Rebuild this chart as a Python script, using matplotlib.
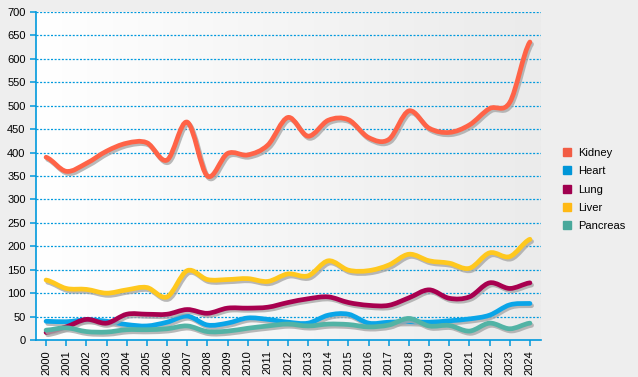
import matplotlib
matplotlib.use("Agg")
import matplotlib.pyplot as plt
import matplotlib.patheffects as pe
import numpy as np
from matplotlib.lines import Line2D
from matplotlib.path import Path
from matplotlib.patches import PathPatch

years = list(range(2000, 2025))
kidney = [390, 360, 377, 403, 420, 421, 384, 465, 350, 398, 395, 416, 475, 435,
          469, 470, 432, 428, 489, 452, 443, 459, 494, 507, 636]
heart = [40, 39, 43, 40, 33, 30, 38, 51, 32, 36, 47, 44, 38, 36,
         53, 55, 36, 38, 39, 38, 41, 45, 53, 75, 78]
lung = [16, 28, 44, 36, 55, 55, 55, 65, 57, 68, 68, 70, 80, 88,
        92, 80, 74, 74, 90, 107, 89, 92, 122, 110, 122]
liver = [128, 110, 108, 100, 107, 112, 92, 148, 129, 129, 131, 125, 141, 137,
         169, 149, 148, 160, 183, 169, 164, 153, 186, 178, 215]
pancreas = [21, 26, 18, 17, 22, 22, 24, 30, 18, 19, 25, 30, 34, 30,
            34, 33, 28, 32, 46, 30, 31, 19, 36, 24, 36]

series = ["Kidney", "Heart", "Lung", "Liver", "Pancreas"]
line_colors = ["#ff6347", "#0aa5e8", "#a8004f", "#ffc81e", "#52b3a5"]
key_colors = ["#f25c44", "#0096d8", "#a0004f", "#ffb914", "#48a89b"]
blue = "#0099dd"


def smooth_path(x, y):
    # cubic bezier through the yearly points (catmull-rom style tangents)
    x = np.asarray(x, float)
    y = np.asarray(y, float)
    n = len(x)
    verts = [(x[0], y[0])]
    codes = [Path.MOVETO]
    for i in range(n - 1):
        y0 = y[i - 1] if i > 0 else y[i]
        y3 = y[i + 2] if i + 2 < n else y[i + 1]
        dx = x[i + 1] - x[i]
        m1 = (y[i + 1] - y0) / 2.0
        m2 = (y3 - y[i]) / 2.0
        verts += [(x[i] + dx / 3, y[i] + m1 / 3),
                  (x[i + 1] - dx / 3, y[i + 1] - m2 / 3),
                  (x[i + 1], y[i + 1])]
        codes += [Path.CURVE4] * 3
    return Path(verts, codes)


fig = plt.figure(figsize=(6.38, 3.77), dpi=100, facecolor="#eeeeee")
ax = fig.add_axes([36 / 638, 1 - 340 / 377, 505 / 638, 328 / 377])
ax.set_facecolor("none")

# plot area gradient, white on the left to light grey on the right
grad = np.linspace(0, 1, 256).reshape(1, -1)
cmap = matplotlib.colors.LinearSegmentedColormap.from_list("bg", ["#ffffff", "#ebebeb"])
ax.imshow(grad, extent=[0, 1, 0, 1], transform=ax.transAxes, cmap=cmap,
          aspect="auto", zorder=0)

ax.set_xlim(1999.5, 2024.55)
ax.set_ylim(0, 700)
ax.set_yticks(range(0, 701, 50))
ax.set_xticks(years)
ax.set_xticklabels([str(y) for y in years], rotation=90)

for v in range(50, 701, 50):
    ax.axhline(v, color=blue, lw=0.9, dashes=(1.6, 1.3), zorder=1)

for name, vals, c in zip(series, [kidney, heart, lung, liver, pancreas], line_colors):
    patch = PathPatch(smooth_path(years, vals), facecolor="none", edgecolor=c,
                      lw=3.4, capstyle="round", joinstyle="round", zorder=3)
    # grey drop shadow under each line
    patch.set_path_effects([pe.Stroke(linewidth=3.4, foreground="#a8a8a8", alpha=0.8,
                                      offset=(1.2, -1.6)),
                            pe.Normal()])
    ax.add_patch(patch)

for s in ["top", "right"]:
    ax.spines[s].set_visible(False)
for s in ["left", "bottom"]:
    ax.spines[s].set_color(blue)
    ax.spines[s].set_linewidth(1.2)
ax.tick_params(axis="both", colors=blue, labelcolor="black", labelsize=8,
               width=1.1, length=4)
for lbl in ax.get_xticklabels() + ax.get_yticklabels():
    lbl.set_fontfamily("Liberation Sans")

handles = [Line2D([], [], ls="none", marker="s", ms=5.5, mfc=c, mec=c) for c in key_colors]
leg = fig.legend(handles, series, loc="upper left", bbox_to_anchor=(553 / 638, 1 - 138 / 377),
                 frameon=False, handlelength=0.8, handletextpad=0.6,
                 labelspacing=0.75, prop={"family": "Liberation Sans", "size": 8})

fig.savefig("out.png", dpi=100, facecolor=fig.get_facecolor())
